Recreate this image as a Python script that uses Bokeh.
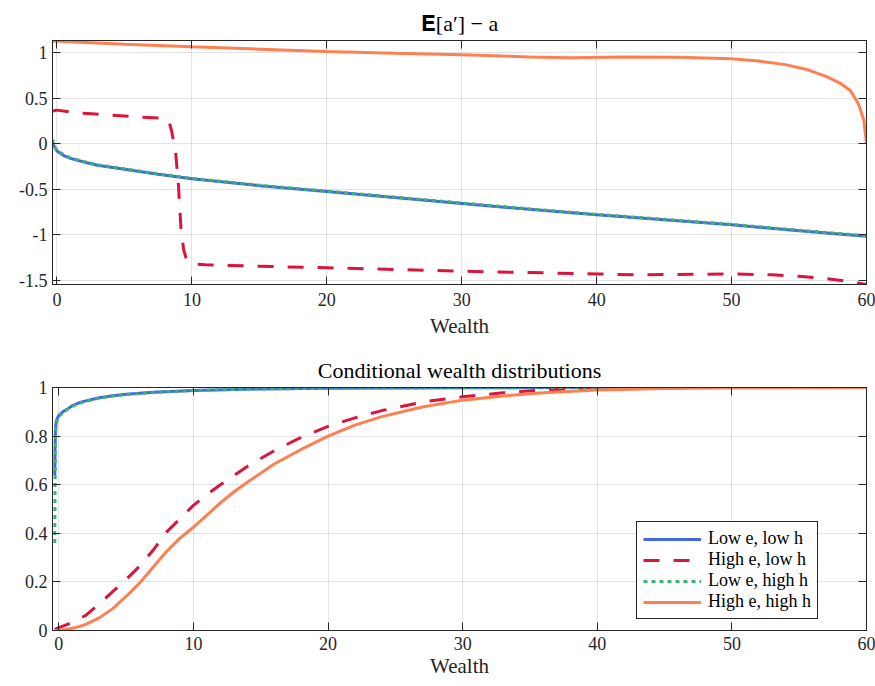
from bokeh.plotting import figure
from bokeh.layouts import column
from bokeh.models import Range1d, FixedTicker, LinearAxis
from bokeh.embed import file_html
from bokeh.resources import INLINE

# ---------------- data ----------------
# Top panel: expected wealth change E[a'] - a
x_top_le_lh = [-0.3, 0, 0.5, 1, 2, 3, 5, 7.5, 10, 15, 20, 25, 30, 35, 40, 45, 50, 55, 60]
drift_le_lh = [0.0, -0.08, -0.13, -0.16, -0.2, -0.235, -0.28, -0.335, -0.385, -0.46, -0.524,
               -0.59, -0.655, -0.72, -0.78, -0.835, -0.89, -0.955, -1.015]
x_top_le_hh = [-0.3, -0.27, 0, 0.5, 1, 2, 3, 5, 7.5, 10, 15, 20, 25, 30, 35, 40, 45, 50, 55, 60]
drift_le_hh = [0.05, -0.02, -0.07, -0.12, -0.155, -0.195, -0.23, -0.275, -0.33, -0.38, -0.455,
               -0.52, -0.585, -0.65, -0.715, -0.775, -0.83, -0.885, -0.95, -1.01]
x_top_he_lh = [-0.3, 0, 1, 2, 4, 6, 8, 8.3, 8.5, 8.8, 9.0, 9.2, 9.4, 9.6, 10, 11, 15, 20, 25,
               30, 35, 40, 43, 46, 50, 53, 55, 57, 58.5, 60]
drift_he_lh = [0.36, 0.37, 0.35, 0.335, 0.315, 0.295, 0.28, 0.25, 0.14, -0.1, -0.45, -0.95,
               -1.17, -1.27, -1.32, -1.33, -1.345, -1.363, -1.38, -1.40, -1.415, -1.43, -1.44,
               -1.435, -1.43, -1.44, -1.455, -1.48, -1.51, -1.545]
x_top_he_hh = [-0.3, 5, 10, 15, 20, 25, 30, 35, 38, 42, 46, 50, 52, 54, 55.5, 57, 58, 58.8,
               59.4, 59.8, 60]
drift_he_hh = [1.13, 1.095, 1.065, 1.04, 1.015, 0.995, 0.978, 0.955, 0.945, 0.953, 0.95, 0.934,
               0.91, 0.87, 0.82, 0.74, 0.67, 0.585, 0.44, 0.26, 0.0]

# Bottom panel: conditional wealth CDFs
x_cdf_low = [-0.3, -0.28, -0.25, -0.2, -0.1, 0, 0.3, 0.6, 1, 1.5, 2, 3, 4, 5, 7, 10, 15, 20,
             30, 40, 60]
cdf_le_lh = [0.64, 0.75, 0.82, 0.86, 0.875, 0.885, 0.90, 0.91, 0.925, 0.937, 0.945, 0.958,
             0.966, 0.972, 0.98, 0.988, 0.994, 0.997, 0.999, 1.0, 1.0]
cdf_le_hh = [0.36, 0.6, 0.78, 0.85, 0.87, 0.88, 0.897, 0.908, 0.922, 0.935, 0.943, 0.956,
             0.965, 0.971, 0.979, 0.988, 0.994, 0.997, 0.999, 1.0, 1.0]
x_cdf_he_lh = [-0.3, 0, 0.5, 1, 2, 3, 4, 5, 6, 7, 8, 9, 10, 11, 12, 14, 16, 18, 20, 22, 24,
               27, 30, 33, 36, 40, 45, 50, 60]
cdf_he_lh = [0.005, 0.012, 0.022, 0.033, 0.062, 0.11, 0.16, 0.21, 0.265, 0.33, 0.405, 0.46,
             0.515, 0.56, 0.6, 0.675, 0.74, 0.795, 0.84, 0.875, 0.905, 0.94, 0.962, 0.978,
             0.99, 0.996, 0.999, 1.0, 1.0]
x_cdf_he_hh = [-0.3, 0, 0.5, 1, 1.5, 2, 3, 4, 5, 6, 7, 8, 9, 10, 11, 12, 13, 14, 16, 18, 20,
               22, 24, 27, 30, 33, 36, 40, 45, 50, 60]
cdf_he_hh = [0.0, 0.001, 0.004, 0.009, 0.016, 0.025, 0.052, 0.09, 0.14, 0.195, 0.26, 0.325,
             0.38, 0.425, 0.475, 0.525, 0.57, 0.61, 0.685, 0.745, 0.80, 0.845, 0.88, 0.92,
             0.948, 0.965, 0.978, 0.99, 0.996, 0.999, 1.0]

series_labels = ["Low e, low h", "High e, low h", "Low e, high h", "High e, high h"]
series_colors = ["#4169E1", "#DC143C", "#3CB371", "#FF7F50"]
series_dashes = ["solid", "16 14", "4 4", "solid"]

x_ticks = [0, 10, 20, 30, 40, 50, 60]
top_y_ticks = [-1.5, -1, -0.5, 0, 0.5, 1]
top_y_labels = ["-1.5", "-1", "-0.5", "0", "0.5", "1"]
bot_y_ticks = [0, 0.2, 0.4, 0.6, 0.8, 1]
bot_y_labels = ["0", "0.2", "0.4", "0.6", "0.8", "1"]

FONT = "Liberation Serif"
AX = "#262626"


def style(p, yticks, ylabels, tick_standoff, label_standoff, title_standoff):
    xax = p.below[0]
    yax = p.left[0]
    p.title.text_font = FONT
    p.title.text_font_style = "normal"
    p.title.text_font_size = "22px"
    p.title.align = "center"
    p.title.text_color = "black"
    p.title.standoff = title_standoff
    p.outline_line_color = AX
    p.outline_line_alpha = 1
    p.background_fill_color = "white"
    p.border_fill_color = "white"
    # mirror axes (ticks only) on top and right, like a boxed MATLAB axes
    top_ax = LinearAxis(ticker=FixedTicker(ticks=x_ticks),
                        major_label_overrides={t: "" for t in x_ticks})
    right_ax = LinearAxis(ticker=FixedTicker(ticks=yticks),
                          major_label_overrides={t: "" for t in yticks})
    for ax in (top_ax, right_ax):
        ax.major_label_text_font_size = "1px"
        ax.major_label_standoff = 0
    p.add_layout(top_ax, "above")
    p.add_layout(right_ax, "right")
    for ax in (xax, yax, top_ax, right_ax):
        ax.axis_line_color = AX
        ax.major_tick_line_color = AX
        ax.major_tick_in = 8
        ax.major_tick_out = 0
        ax.minor_tick_line_color = None
    for ax in (xax, yax):
        ax.major_label_text_font = FONT
        ax.major_label_text_font_size = "18px"
        ax.major_label_text_color = AX
        ax.axis_label_text_font = FONT
        ax.axis_label_text_font_style = "normal"
        ax.axis_label_text_font_size = "21px"
        ax.axis_label_text_color = AX
    xax.ticker = FixedTicker(ticks=x_ticks)
    yax.ticker = FixedTicker(ticks=yticks)
    yax.major_label_overrides = {t: l for t, l in zip(yticks, ylabels)}
    xax.major_label_standoff = tick_standoff
    xax.axis_label_standoff = label_standoff
    yax.major_label_standoff = 5
    xax.axis_label = "Wealth"
    p.xgrid.ticker = FixedTicker(ticks=x_ticks)
    p.ygrid.ticker = FixedTicker(ticks=yticks)
    for g in (p.xgrid[0], p.ygrid[0]):
        g.grid_line_color = AX
        g.grid_line_alpha = 0.13
        g.grid_line_width = 1


# ---------------- top figure ----------------
p1 = figure(width=875, height=347, output_backend="svg", toolbar_location=None,
            x_range=Range1d(-0.33, 60), y_range=Range1d(-1.546, 1.135),
            title="\U0001D404[a\u2032] \u2212 a",
            min_border_left=52, min_border_right=9, min_border_top=40, min_border_bottom=63)
style(p1, top_y_ticks, top_y_labels, 8, 5, 10)

top_x = [x_top_le_lh, x_top_he_lh, x_top_le_hh, x_top_he_hh]
top_y = [drift_le_lh, drift_he_lh, drift_le_hh, drift_he_hh]
for xs, ys, c, d in zip(top_x, top_y, series_colors, series_dashes):
    p1.line(xs, ys, line_color=c, line_width=3, line_dash=d)

# ---------------- bottom figure ----------------
p2 = figure(width=875, height=339, output_backend="svg", toolbar_location=None,
            x_range=Range1d(-0.47, 60), y_range=Range1d(0, 1),
            title="Conditional wealth distributions",
            min_border_left=52, min_border_right=9, min_border_top=40, min_border_bottom=56)
style(p2, bot_y_ticks, bot_y_labels, 6, 1, 9)

bot_x = [x_cdf_low, x_cdf_he_lh, x_cdf_low, x_cdf_he_hh]
bot_y = [cdf_le_lh, cdf_he_lh, cdf_le_hh, cdf_he_hh]
for xs, ys, c, d, lab in zip(bot_x, bot_y, series_colors, series_dashes, series_labels):
    p2.line(xs, ys, line_color=c, line_width=3, line_dash=d, legend_label=lab)

lg = p2.legend[0]
lg.location = (584, 11)
lg.label_text_font = FONT
lg.label_text_font_size = "18px"
lg.label_text_color = "black"
lg.border_line_color = AX
lg.border_line_alpha = 1
lg.background_fill_alpha = 1
lg.glyph_width = 58
lg.glyph_height = 20
lg.label_height = 20
lg.spacing = 0
lg.padding = 6
lg.margin = 0
lg.label_standoff = 7

layout = column(p1, p2, spacing=0)
open("out.html", "w").write(file_html(layout, INLINE))
